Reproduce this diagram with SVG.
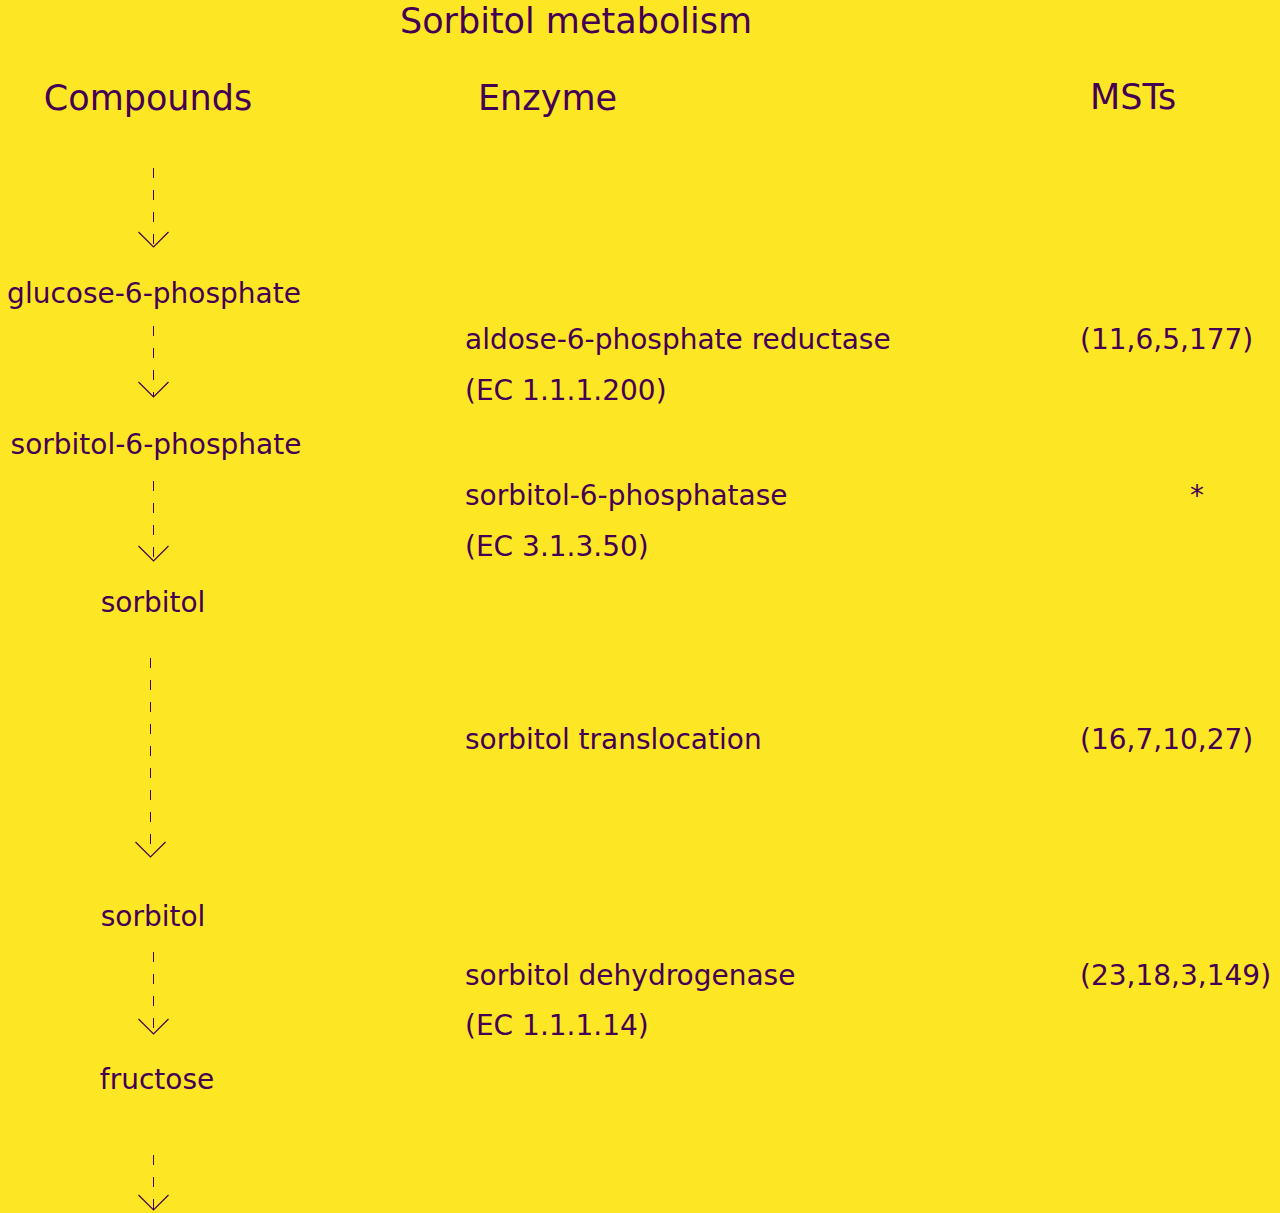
<svg xmlns="http://www.w3.org/2000/svg" width="1280" height="1213" viewBox="0 0 1280 1213">
<style>
  text { font-family: "DejaVu Sans", "Liberation Sans", sans-serif; fill: #440154; }
  .title { font-size: 35px; }
  .head { font-size: 35px; }
  .t { font-size: 28px; }
  .mid { text-anchor: middle; }
  .edge { stroke: #440154; stroke-width: 1; fill: none; stroke-dasharray: 10 12; }
  .head-mk { stroke: #440154; stroke-width: 1.2; fill: none; }
</style>
<defs>
  <marker id="arrow" markerUnits="userSpaceOnUse" orient="auto" markerWidth="34" markerHeight="34" refX="17" refY="17" viewBox="0 0 34 34">
    <path class="head-mk" d="M2,2 L17,17 L2,32"/>
  </marker>
</defs>
<rect width="1280" height="1213" fill="#FDE725"/>
<text id="title" class="title mid" x="576" y="33">Sorbitol metabolism</text>
<g id="headers">
  <text id="h-compounds" class="head mid" x="148" y="110">Compounds</text>
  <text id="h-enzyme" class="head" x="478" y="110">Enzyme</text>
  <text id="h-msts" class="head" x="1090" y="109">MSTs</text>
</g>
<g id="connectors">
  <line class="edge" x1="153.5" y1="168" x2="153.5" y2="247" marker-end="url(#arrow)"/>
  <line class="edge" x1="153.5" y1="326" x2="153.5" y2="397" marker-end="url(#arrow)"/>
  <line class="edge" x1="153.5" y1="481" x2="153.5" y2="561" marker-end="url(#arrow)"/>
  <line class="edge" x1="150.5" y1="658" x2="150.5" y2="857" marker-end="url(#arrow)"/>
  <line class="edge" x1="153.5" y1="952" x2="153.5" y2="1034" marker-end="url(#arrow)"/>
  <line class="edge" x1="153.5" y1="1155" x2="153.5" y2="1210" marker-end="url(#arrow)"/>
</g>
<g id="node-glucose-6-phosphate"><text class="t mid" x="154" y="303">glucose-6-phosphate</text></g>
<g id="node-sorbitol-6-phosphate"><text class="t mid" x="156" y="454">sorbitol-6-phosphate</text></g>
<g id="node-sorbitol-1"><text class="t mid" x="153" y="612">sorbitol</text></g>
<g id="node-sorbitol-2"><text class="t mid" x="153" y="926">sorbitol</text></g>
<g id="node-fructose"><text class="t mid" x="157" y="1089">fructose</text></g>
<g id="enzyme-1">
  <text class="t" x="465" y="349">aldose-6-phosphate reductase</text>
  <text class="t" x="465" y="400">(EC 1.1.1.200)</text>
</g>
<g id="msts-1"><text class="t" x="1080" y="349">(11,6,5,177)</text></g>
<g id="enzyme-2">
  <text class="t" x="465" y="505">sorbitol-6-phosphatase</text>
  <text class="t" x="465" y="556">(EC 3.1.3.50)</text>
</g>
<g id="msts-2"><text class="t mid" x="1197" y="505">*</text></g>
<g id="enzyme-3"><text class="t" x="465" y="749">sorbitol translocation</text></g>
<g id="msts-3"><text class="t" x="1080" y="749">(16,7,10,27)</text></g>
<g id="enzyme-4">
  <text class="t" x="465" y="985">sorbitol dehydrogenase</text>
  <text class="t" x="465" y="1035">(EC 1.1.1.14)</text>
</g>
<g id="msts-4"><text class="t" x="1080" y="985">(23,18,3,149)</text></g>
</svg>
